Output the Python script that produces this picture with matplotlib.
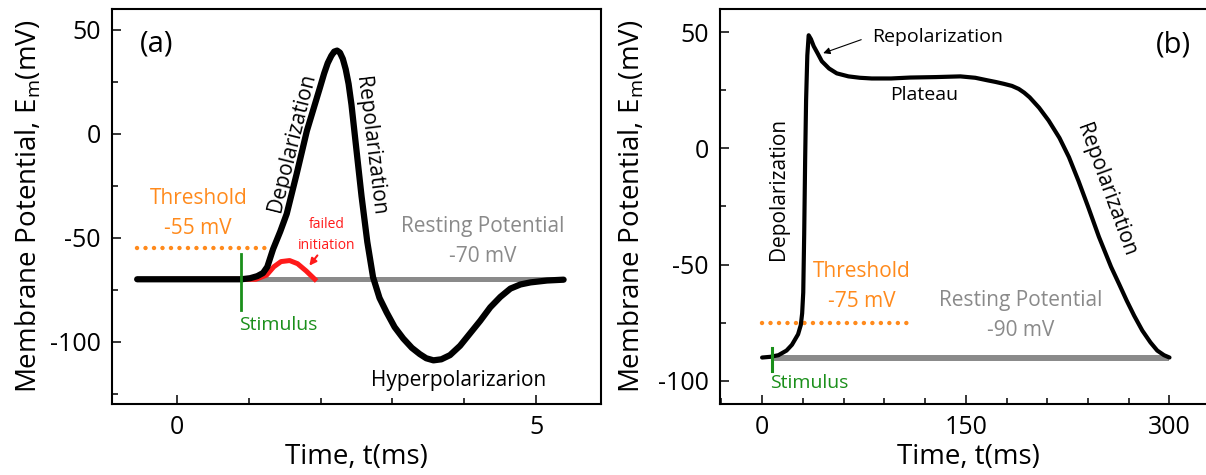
import matplotlib
matplotlib.use("Agg")
import matplotlib.pyplot as plt
from matplotlib.ticker import MultipleLocator

plt.rcParams['font.family'] = ['Open Sans', 'DejaVu Sans']
plt.rcParams['mathtext.fontset'] = 'custom'
plt.rcParams['mathtext.rm'] = 'Open Sans'
plt.rcParams['axes.unicode_minus'] = False

# ---- data, panel (a): neuron action potential ----
t_a = [-0.55, 0.0, 0.5, 0.9, 1.02, 1.12, 1.2, 1.26, 1.34, 1.44, 1.53, 1.67, 1.81,
       1.92, 1.99, 2.05, 2.1, 2.15, 2.19, 2.23, 2.27, 2.31, 2.35, 2.39, 2.43, 2.5,
       2.57, 2.65, 2.73, 2.82, 2.92, 3.03, 3.15, 3.27, 3.38, 3.47, 3.57, 3.68, 3.8,
       3.94, 4.08, 4.22, 4.36, 4.5, 4.64, 4.78, 4.92, 5.15, 5.38]
v_a = [-70, -70, -70, -70, -69.5, -68.5, -67, -64, -55.5, -47, -38.5, -19, 1.4,
       14, 22, 29, 34, 37.5, 39.5, 40, 39, 36, 31, 24, 14, -8,
       -30, -52, -69, -79, -86, -93, -98.5, -103, -106, -108, -109, -108.5, -106.5,
       -102, -96, -90, -83.5, -78.5, -74.5, -72.5, -71.5, -70.6, -70.2]
t_fail = [-0.2, 0.9, 1.1, 1.25, 1.35, 1.45, 1.57, 1.68, 1.8, 1.92]
v_fail = [-70, -70, -70, -68, -64, -61.5, -61, -62.5, -66, -70]
rest_a = -70
thr_a = -55
stim_a = 0.89

# ---- data, panel (b): cardiac action potential ----
t_b = [0, 6, 12, 18, 22, 26.5, 28.5, 29.5, 30.3, 31, 31.7, 32.4, 33.3, 34.3, 36, 38,
       40.9, 44, 49.3, 55, 63.6, 72, 80.7, 95, 109, 128, 146, 157, 166, 172, 178, 184,
       189, 193, 197, 204, 211, 219, 226, 233, 240, 248, 257, 263, 268.5, 274, 280, 286,
       291, 296, 300]
v_b = [-90, -89.7, -89, -87, -84.5, -80, -76, -71, -62, -37, -5, 20.7, 40, 48.7, 47, 44,
       40.9, 37.5, 34.4, 32.3, 31, 30.4, 30.1, 30.1, 30.5, 30.7, 31, 30.4, 29.3, 28.6, 27.8, 26.9,
       25.6, 24, 22, 17.5, 12, 4.5, -3.8, -14, -25, -38, -51, -58.5, -65.5, -72, -78.4, -83.5,
       -87, -89, -90]
rest_b = -90
thr_b = -75
stim_b = 7.5

orange = '#ff8a1c'
grey = '#8a8a8a'
green = '#1a8f1a'
red = '#ff1a1a'

fig = plt.figure(figsize=(12.06, 4.75), dpi=100)
ax1 = fig.add_axes([112/1206, 71/475, 489/1206, 395/475])
ax2 = fig.add_axes([720/1206, 71/475, 497/1206, 395/475])

dots = (0, (0.01, 1.9))
ylab = r'Membrane Potential, E$_\mathregular{m}$(mV)'

# panel (a)
ax1.plot([stim_a, t_a[-1]], [rest_a, rest_a], color=grey, lw=3.6, solid_capstyle='butt', zorder=2)
ax1.plot(t_fail, v_fail, color=red, lw=3.6, zorder=3)
ax1.plot(t_a, v_a, color='black', lw=4.5, solid_capstyle='round', solid_joinstyle='round', zorder=4)
ax1.plot([-0.55, 1.33], [thr_a, thr_a], color=orange, lw=3.2, linestyle=dots,
         dash_capstyle='round', zorder=3)
ax1.plot([stim_a, stim_a], [-58, -85], color=green, lw=2, zorder=5)

ax1.text(-0.28, 43, '(a)', fontsize=21, ha='center', va='center')
ax1.text(0.3, -38.5, 'Threshold\n-55 mV', color=orange, fontsize=15, ha='center', va='center',
         linespacing=1.55)
ax1.text(0.87, -92, 'Stimulus', color=green, fontsize=14, ha='left', va='center')
ax1.text(1.6, -4, 'Depolarization', fontsize=15, rotation=76, ha='center', va='center')
ax1.text(2.69, -6, 'Repolarization', fontsize=15, rotation=-83, ha='center', va='center')
ax1.text(4.25, -52, 'Resting Potential\n-70 mV', color=grey, fontsize=15, ha='center',
         va='center', linespacing=1.55)
ax1.text(3.92, -118.7, 'Hyperpolarizarion', fontsize=15, ha='center', va='center')
ax1.text(2.08, -48.6, 'failed\ninitiation', color=red, fontsize=10, ha='center', va='center',
         linespacing=1.5)
ax1.annotate('', xy=(1.82, -64.5), xytext=(1.98, -57.5),
             arrowprops=dict(arrowstyle='-|>', color=red, lw=1.5, mutation_scale=10))

ax1.set_xlim(-0.9, 5.9)
ax1.set_ylim(-130, 60)
ax1.xaxis.set_major_locator(MultipleLocator(5))
ax1.xaxis.set_minor_locator(MultipleLocator(1))
ax1.yaxis.set_major_locator(MultipleLocator(50))
ax1.yaxis.set_minor_locator(MultipleLocator(25))

# panel (b)
ax2.plot([stim_b, 300], [rest_b, rest_b], color=grey, lw=4.3, solid_capstyle='butt', zorder=2)
ax2.plot(t_b, v_b, color='black', lw=3, solid_capstyle='round', solid_joinstyle='round', zorder=4)
ax2.plot([0, 108], [thr_b, thr_b], color=orange, lw=3.2, linestyle=dots,
         dash_capstyle='round', zorder=3)
ax2.plot([stim_b, stim_b], [-85.7, -95.7], color=green, lw=2.2, zorder=5)

ax2.text(302.6, 44.4, '(b)', fontsize=21, ha='center', va='center')
ax2.text(73.6, -59.3, 'Threshold\n-75 mV', color=orange, fontsize=15, ha='center', va='center',
         linespacing=1.55)
ax2.text(6, -101, 'Stimulus', color=green, fontsize=14, ha='left', va='center')
ax2.text(11.8, -17.4, 'Depolarization', fontsize=15, rotation=90, ha='center', va='center')
ax2.text(119, 22.8, 'Plateau', fontsize=14, ha='center', va='center')
ax2.text(253, -18, 'Repolarization', fontsize=15, rotation=-70, ha='center', va='center')
ax2.text(190.5, -72, 'Resting Potential\n-90 mV', color=grey, fontsize=15, ha='center',
         va='center', linespacing=1.55)
ax2.text(80.7, 48, 'Repolarization', fontsize=14, ha='left', va='center')
ax2.annotate('', xy=(45, 41), xytext=(73, 46.8),
             arrowprops=dict(arrowstyle='-|>', color='black', lw=0.8, mutation_scale=10,
                             shrinkA=0, shrinkB=0))

ax2.set_xlim(-31, 335)
ax2.set_ylim(-110, 60)
ax2.xaxis.set_major_locator(MultipleLocator(150))
ax2.xaxis.set_minor_locator(MultipleLocator(30))
ax2.yaxis.set_major_locator(MultipleLocator(50))
ax2.yaxis.set_minor_locator(MultipleLocator(25))

for ax in (ax1, ax2):
    ax.tick_params(which='both', direction='in', width=1.1, labelsize=18, top=False, right=False)
    ax.tick_params(which='major', length=6.5, pad=8)
    ax.tick_params(which='minor', length=4)
    for s in ax.spines.values():
        s.set_linewidth(1.5)
    ax.set_xlabel('Time, t(ms)', fontsize=20, labelpad=2)
    ax.set_ylabel(ylab, fontsize=20)

ax1.yaxis.set_label_coords(-0.14, 0.5)
ax2.yaxis.set_label_coords(-0.148, 0.5)

fig.savefig('out.png', dpi=100)
